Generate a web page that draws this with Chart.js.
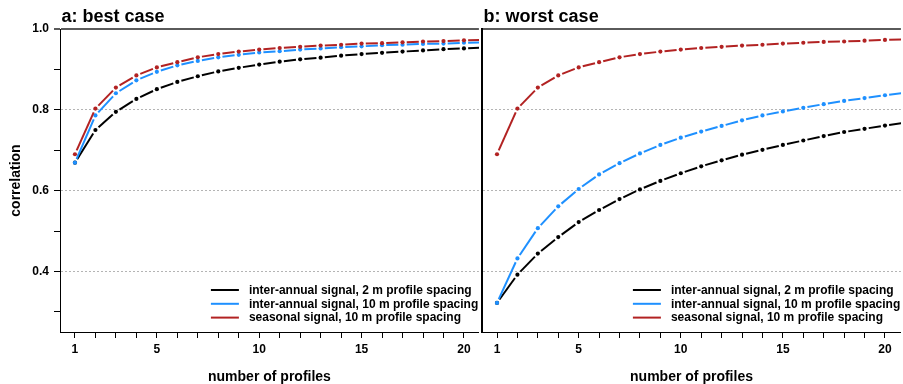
<!DOCTYPE html>
<html>
<head>
<meta charset="utf-8">
<script src="https://cdn.jsdelivr.net/npm/chart.js@4.4.1/dist/chart.umd.min.js"></script>
<style>
  html, body { margin: 0; padding: 0; background: #fff; }
  #wrap { position: relative; width: 903px; height: 384px; overflow: hidden; }
  #chartA { position: absolute; left: 0; top: 0; }
  #chartB { position: absolute; left: 480px; top: 0; }
</style>
</head>
<body>
<div id="wrap">
  <canvas id="chartA" width="481" height="384"></canvas>
  <canvas id="chartB" width="423" height="384"></canvas>
</div>
<script>
// DATA
const profiles = [1, 2, 3, 4, 5, 6, 7, 8, 9, 10, 11, 12, 13, 14, 15, 16, 17, 18, 19, 20, 21];
const xTicks = [1, 2, 3, 4, 5, 6, 7, 8, 9, 10, 11, 12, 13, 14, 15, 16, 17, 18, 19, 20];
const xLabels = [1, 5, 10, 15, 20];
const yTicks = [0.3, 0.4, 0.5, 0.6, 0.7, 0.8, 0.9, 1.0];
const yLabels = [0.4, 0.6, 0.8, 1.0];

const seriesNames = [
  "inter-annual signal, 2 m profile spacing",
  "inter-annual signal, 10 m profile spacing",
  "seasonal signal, 10 m profile spacing"
];
const seriesColors = ["#000000", "#1e90ff", "#b22222"];

// a: best case
const bestInter2 = [0.669, 0.750, 0.795, 0.827, 0.851, 0.869, 0.883, 0.895, 0.904, 0.912, 0.919, 0.925, 0.929, 0.934, 0.938, 0.941, 0.944, 0.947, 0.950, 0.952, 0.954];
const bestInter10 = [0.669, 0.786, 0.841, 0.873, 0.894, 0.910, 0.921, 0.930, 0.936, 0.942, 0.945, 0.949, 0.952, 0.955, 0.957, 0.960, 0.961, 0.963, 0.964, 0.966, 0.967];
const bestSeasonal10 = [0.690, 0.803, 0.855, 0.885, 0.905, 0.918, 0.930, 0.938, 0.944, 0.949, 0.953, 0.956, 0.959, 0.961, 0.964, 0.965, 0.967, 0.969, 0.970, 0.972, 0.973];

// b: worst case
const worstInter2 = [0.322, 0.392, 0.444, 0.485, 0.522, 0.552, 0.579, 0.603, 0.624, 0.643, 0.660, 0.675, 0.689, 0.701, 0.713, 0.724, 0.735, 0.745, 0.753, 0.761, 0.768];
const worstInter10 = [0.322, 0.432, 0.507, 0.561, 0.604, 0.640, 0.668, 0.692, 0.713, 0.731, 0.746, 0.760, 0.774, 0.786, 0.796, 0.805, 0.814, 0.822, 0.829, 0.836, 0.842];
const worstSeasonal10 = [0.690, 0.803, 0.855, 0.885, 0.905, 0.918, 0.930, 0.938, 0.944, 0.949, 0.953, 0.956, 0.959, 0.961, 0.964, 0.966, 0.968, 0.969, 0.971, 0.973, 0.974];

const FONT = '"Liberation Sans", Arial, Helvetica, sans-serif';
const GAP = 4.2; // gap left around each point, like R type="b"

function near(list, v) {
  return list.some(l => Math.abs(l - v) < 1e-6);
}

// line segments stop short of the points
function segLen(c) {
  const dx = c.p1.x - c.p0.x;
  const dy = c.p1.y - c.p0.y;
  return Math.sqrt(dx * dx + dy * dy);
}
function segDash(c) {
  const len = segLen(c);
  if (len <= 2 * GAP) return [0, len + 10];
  return [len - 2 * GAP, 2 * GAP];
}
function segOffset(c) {
  return segLen(c) - GAP;
}

function makeDatasets(values) {
  return values.map((vals, i) => ({
    label: seriesNames[i],
    data: vals.map((v, j) => ({ x: profiles[j], y: v })),
    borderColor: seriesColors[i],
    backgroundColor: seriesColors[i],
    borderWidth: 2,
    pointRadius: 2.1,
    pointBorderWidth: 0,
    pointHoverRadius: 2.1,
    order: 2 - i,
    segment: { borderDash: segDash, borderDashOffset: segOffset }
  }));
}

// PLUGINS
function titlePlugin(text) {
  return {
    id: "panelTitle",
    afterDraw(chart) {
      const ctx = chart.ctx;
      ctx.save();
      ctx.font = "bold 18px " + FONT;
      ctx.fillStyle = "#000";
      ctx.textBaseline = "alphabetic";
      ctx.fillText(text, chart.chartArea.left + 1.5, 22);
      ctx.restore();
    }
  };
}

const legendPlugin = {
  id: "boxLegend",
  afterDraw(chart) {
    const { ctx, chartArea } = chart;
    const textX = chartArea.right - 230;
    ctx.save();
    ctx.font = "bold 12px " + FONT;
    ctx.textBaseline = "middle";
    chart.data.datasets.forEach((ds, row) => {
      const y = chartArea.bottom - 42 + row * 13.8;
      ctx.strokeStyle = ds.borderColor;
      ctx.lineWidth = 2;
      ctx.beginPath();
      ctx.moveTo(textX - 38, y);
      ctx.lineTo(textX - 10, y);
      ctx.stroke();
      ctx.fillStyle = "#000";
      ctx.fillText(ds.label, textX, y + 0.5);
    });
    ctx.restore();
  }
};

// CHARTS
function yGridColor(c) {
  if (!c.tick) return "#000";
  if (Math.abs(c.tick.value - 1) < 1e-6) return "#5a5a5a";
  return near([0.4, 0.6, 0.8], c.tick.value) ? "#b4b4b4" : "rgba(0,0,0,0)";
}
function yGridWidth(c) {
  return c.tick && Math.abs(c.tick.value - 1) < 1e-6 ? 2 : 1;
}
function yGridDash(c) {
  if (!c.tick || Math.abs(c.tick.value - 1) < 1e-6) return [];
  return [2, 2];
}
function yTickColor(c) {
  return c.tick && Math.abs(c.tick.value - 1) < 1e-6 ? "#5a5a5a" : "#000";
}

function makePanel(canvasId, title, values, isFirst) {
  return new Chart(document.getElementById(canvasId), {
    type: "line",
    data: { datasets: makeDatasets(values) },
    plugins: [titlePlugin(title), legendPlugin],
    options: {
      responsive: false,
      animation: false,
      events: [],
      layout: { padding: { top: 29, left: 0, right: 0, bottom: 0 } },
      plugins: { legend: { display: false }, tooltip: { enabled: false } },
      scales: {
        x: {
          type: "linear",
          min: 0.27,
          max: isFirst ? 20.73 : 20.78,
          afterBuildTicks: s => { s.ticks = xTicks.map(v => ({ value: v })); },
          afterFit: s => { s.height = 52; },
          ticks: {
            autoSkip: false,
            maxRotation: 0,
            padding: 4,
            color: "#000",
            font: { family: FONT, size: 12, weight: "bold" },
            callback: v => (xLabels.includes(v) ? String(v) : "")
          },
          grid: { drawOnChartArea: false, drawTicks: true, tickLength: 6, tickColor: "#000" },
          border: { display: true, color: "#000", width: 1 },
          title: {
            display: true,
            text: "number of profiles",
            color: "#000",
            font: { family: FONT, size: 14, weight: "bold", lineHeight: 1 },
            padding: { top: 0, bottom: 0 }
          }
        },
        y: {
          type: "linear",
          min: 0.25,
          max: 1.0,
          afterBuildTicks: s => { s.ticks = yTicks.map(v => ({ value: v })); },
          afterFit: s => { s.width = isFirst ? 60 : 2; },
          ticks: {
            display: isFirst,
            padding: 5,
            color: "#000",
            font: { family: FONT, size: 12, weight: "bold" },
            callback: v => (near(yLabels, v) ? v.toFixed(1) : "")
          },
          grid: {
            color: yGridColor,
            lineWidth: yGridWidth,
            drawTicks: isFirst,
            tickLength: 6,
            tickColor: yTickColor,
            tickWidth: yGridWidth
          },
          border: { display: true, color: "#000", width: isFirst ? 1 : 2, dash: yGridDash },
          title: {
            display: isFirst,
            text: "correlation",
            color: "#000",
            font: { family: FONT, size: 14, weight: "bold" },
            padding: { top: 8, bottom: 0 }
          }
        }
      }
    }
  });
}

// INIT
makePanel("chartA", "a: best case", [bestInter2, bestInter10, bestSeasonal10], true);
makePanel("chartB", "b: worst case", [worstInter2, worstInter10, worstSeasonal10], false);
</script>
</body>
</html>
